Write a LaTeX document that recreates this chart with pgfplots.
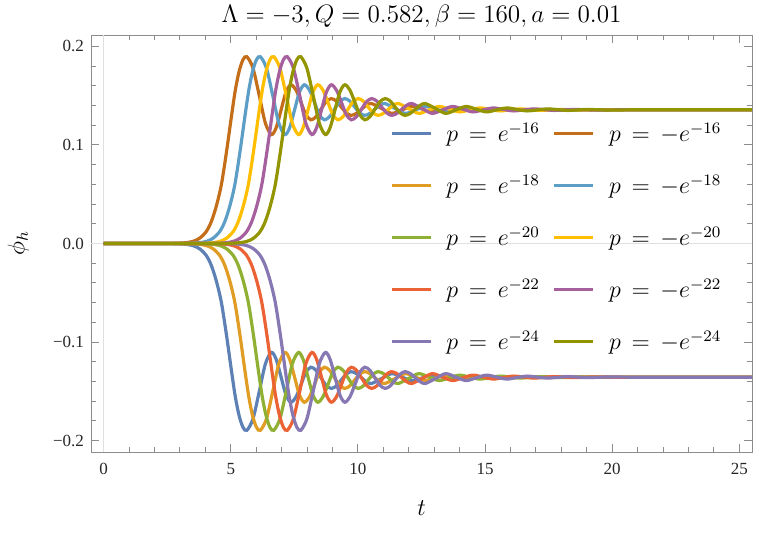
\documentclass[border=0pt]{standalone}
\usepackage[no-math]{fontspec}
\setmainfont{Liberation Serif}
\usepackage{pgfplots}
\usepackage{pgfplotstable}
\pgfplotsset{compat=1.18}

% Mathematica default palette
\definecolor{c1}{rgb}{0.368417,0.506779,0.709798}
\definecolor{c2}{rgb}{0.880722,0.611041,0.142051}
\definecolor{c3}{rgb}{0.560181,0.691569,0.194885}
\definecolor{c4}{rgb}{0.922526,0.385626,0.209179}
\definecolor{c5}{rgb}{0.528488,0.470624,0.701351}
\definecolor{c6}{rgb}{0.772079,0.431554,0.102387}
\definecolor{c7}{rgb}{0.363898,0.618501,0.782349}
\definecolor{c8}{rgb}{1,0.75,0}
\definecolor{c9}{rgb}{0.647624,0.37816,0.614037}
\definecolor{c10}{rgb}{0.571589,0.586483,0}

% t columns: one per |p|; yp for p<0 (upper branch), yn for p>0 (lower branch)
\pgfplotstableread{
t16 t18 t20 t22 t24 yp yn
0 0 0 0 0 0 0
1.03 1.56 2.09 2.62 3.15 0 0
1.63 2.16 2.69 3.22 3.75 0 0
2.23 2.76 3.29 3.82 4.35 0.00005 -0.00005
2.83 3.36 3.89 4.42 4.95 0.0002 -0.0002
3.23 3.76 4.29 4.82 5.35 0.0008 -0.0008
3.53 4.06 4.59 5.12 5.65 0.0023 -0.0023
3.78 4.31 4.84 5.37 5.90 0.0055 -0.0055
4.03 4.56 5.09 5.62 6.15 0.0120 -0.0120
4.23 4.76 5.29 5.82 6.35 0.0220 -0.0220
4.43 4.96 5.49 6.02 6.55 0.0380 -0.0380
4.63 5.16 5.69 6.22 6.75 0.0600 -0.0600
4.83 5.36 5.89 6.42 6.95 0.0930 -0.0930
5.03 5.56 6.09 6.62 7.15 0.1300 -0.1300
5.18 5.71 6.24 6.77 7.30 0.1560 -0.1560
5.33 5.86 6.39 6.92 7.45 0.1750 -0.1750
5.48 6.01 6.54 7.07 7.60 0.1865 -0.1865
5.63 6.16 6.69 7.22 7.75 0.1895 -0.1895
5.87 6.40 6.93 7.46 7.99 0.1780 -0.1780
6.12 6.65 7.18 7.71 8.24 0.1500 -0.1500
6.36 6.89 7.42 7.95 8.48 0.1220 -0.1220
6.60 7.13 7.66 8.19 8.72 0.1105 -0.1105
6.79 7.32 7.85 8.38 8.91 0.1179 -0.1179
6.98 7.51 8.04 8.57 9.10 0.1358 -0.1358
7.17 7.70 8.23 8.76 9.29 0.1536 -0.1536
7.36 7.89 8.42 8.95 9.48 0.1610 -0.1610
7.56 8.09 8.62 9.15 9.68 0.1558 -0.1558
7.76 8.29 8.82 9.35 9.88 0.1433 -0.1433
7.95 8.48 9.01 9.54 10.07 0.1307 -0.1307
8.15 8.68 9.21 9.74 10.27 0.1255 -0.1255
8.35 8.88 9.41 9.94 10.47 0.1286 -0.1286
8.55 9.08 9.61 10.14 10.67 0.1363 -0.1363
8.75 9.28 9.81 10.34 10.87 0.1439 -0.1439
8.95 9.48 10.01 10.54 11.07 0.1470 -0.1470
9.15 9.68 10.21 10.74 11.27 0.1445 -0.1445
9.34 9.87 10.40 10.93 11.46 0.1385 -0.1385
9.54 10.07 10.60 11.13 11.66 0.1325 -0.1325
9.73 10.26 10.79 11.32 11.85 0.1300 -0.1300
9.93 10.46 10.99 11.52 12.05 0.1318 -0.1318
10.13 10.66 11.19 11.72 12.25 0.1360 -0.1360
10.33 10.86 11.39 11.92 12.45 0.1402 -0.1402
10.53 11.06 11.59 12.12 12.65 0.1420 -0.1420
10.93 11.46 11.99 12.52 13.05 0.1370 -0.1370
11.33 11.86 12.39 12.92 13.45 0.1320 -0.1320
11.73 12.26 12.79 13.32 13.85 0.1355 -0.1355
12.13 12.66 13.19 13.72 14.25 0.1390 -0.1390
12.53 13.06 13.59 14.12 14.65 0.1363 -0.1363
12.93 13.46 13.99 14.52 15.05 0.1335 -0.1335
13.33 13.86 14.39 14.92 15.45 0.1355 -0.1355
13.73 14.26 14.79 15.32 15.85 0.1375 -0.1375
14.13 14.66 15.19 15.72 16.25 0.1360 -0.1360
14.53 15.06 15.59 16.12 16.65 0.1345 -0.1345
14.93 15.46 15.99 16.52 17.05 0.1355 -0.1355
15.33 15.86 16.39 16.92 17.45 0.1365 -0.1365
15.73 16.26 16.79 17.32 17.85 0.1358 -0.1358
16.13 16.66 17.19 17.72 18.25 0.1350 -0.1350
16.53 17.06 17.59 18.12 18.65 0.1355 -0.1355
16.93 17.46 17.99 18.52 19.05 0.1360 -0.1360
17.73 18.26 18.79 19.32 19.85 0.1354 -0.1354
18.63 19.16 19.69 20.22 20.75 0.1356 -0.1356
20.13 20.66 21.19 21.72 22.25 0.1356 -0.1356
21.63 22.16 22.69 23.22 23.75 0.1356 -0.1356
25.5 25.5 25.5 25.5 25.5 0.1356 -0.1356
}\phidata

\begin{document}
\begin{tikzpicture}
\begin{axis}[
  scale only axis, width=330.5pt, height=208.5pt,
  xmin=-0.5, xmax=25.5, ymin=-0.2115, ymax=0.2115,
  xtick={0,5,10,15,20,25},
  ytick={-0.2,-0.1,0,0.1,0.2},
  yticklabels={−0.2,−0.1,0.0,0.1,0.2},
  minor x tick num=4, minor y tick num=4,
  tick align=inside,
  major tick length=4pt, minor tick length=2.4pt,
  axis line style={black!45},
  every tick/.style={black!45, line width=0.5pt},
  /pgf/number format/assume math mode=true,
  ticklabel style={font=\fontsize{8.5}{10}\selectfont, text=black!85},
  xticklabel style={yshift=-2pt},
  title={$\Lambda=-3, Q=0.582, \beta=160, a=0.01$},
  title style={at={(axis description cs:0.5,1.016)}, anchor=center,
    scale=1.05, font=\fontsize{12}{15}\selectfont},
  xlabel={$t$},
  xlabel style={at={(axis description cs:0.5,-0.134)}, anchor=center, font=\fontsize{12}{15}\selectfont},
  ylabel={$\phi_h$},
  ylabel style={at={(axis description cs:-0.11,0.5)}, anchor=center, font=\fontsize{12}{15}\selectfont},
  every axis plot/.append style={line width=1.6pt, smooth},
  legend columns=2,
  legend cell align=left,
  legend image code/.code={\draw[#1, line width=1.6pt] (0pt,0pt) -- (19.5pt,0pt);},
  legend style={draw=none, fill=none, at={(0.452,0.80)}, anchor=north west,
    font=\fontsize{12}{15}\selectfont, inner sep=0pt, row sep=11pt,
    nodes={inner sep=2pt, font=\fontsize{12}{15}\selectfont},
    /tikz/every odd column/.append style={column sep=5pt},
    /tikz/every even column/.append style={column sep=4.5pt}},
]
\draw[black!12, line width=0.6pt] (axis cs:0,-0.2115) -- (axis cs:0,0.2115);
\draw[black!12, line width=0.6pt] (axis cs:-0.5,0) -- (axis cs:25.5,0);

\addplot[c1]  table[x=t16, y=yn] {\phidata}; \addlegendentry{$p\,=\,e^{-16}$}
\addplot[c6]  table[x=t16, y=yp] {\phidata}; \addlegendentry{$p\,=\,-e^{-16}$}
\addplot[c2]  table[x=t18, y=yn] {\phidata}; \addlegendentry{$p\,=\,e^{-18}$}
\addplot[c7]  table[x=t18, y=yp] {\phidata}; \addlegendentry{$p\,=\,-e^{-18}$}
\addplot[c3]  table[x=t20, y=yn] {\phidata}; \addlegendentry{$p\,=\,e^{-20}$}
\addplot[c8]  table[x=t20, y=yp] {\phidata}; \addlegendentry{$p\,=\,-e^{-20}$}
\addplot[c4]  table[x=t22, y=yn] {\phidata}; \addlegendentry{$p\,=\,e^{-22}$}
\addplot[c9]  table[x=t22, y=yp] {\phidata}; \addlegendentry{$p\,=\,-e^{-22}$}
\addplot[c5]  table[x=t24, y=yn] {\phidata}; \addlegendentry{$p\,=\,e^{-24}$}
\addplot[c10] table[x=t24, y=yp] {\phidata}; \addlegendentry{$p\,=\,-e^{-24}$}
\end{axis}
\pgfresetboundingbox
\path (-45.5pt,-40pt) rectangle (338.5pt,226pt);
\end{tikzpicture}
\end{document}
